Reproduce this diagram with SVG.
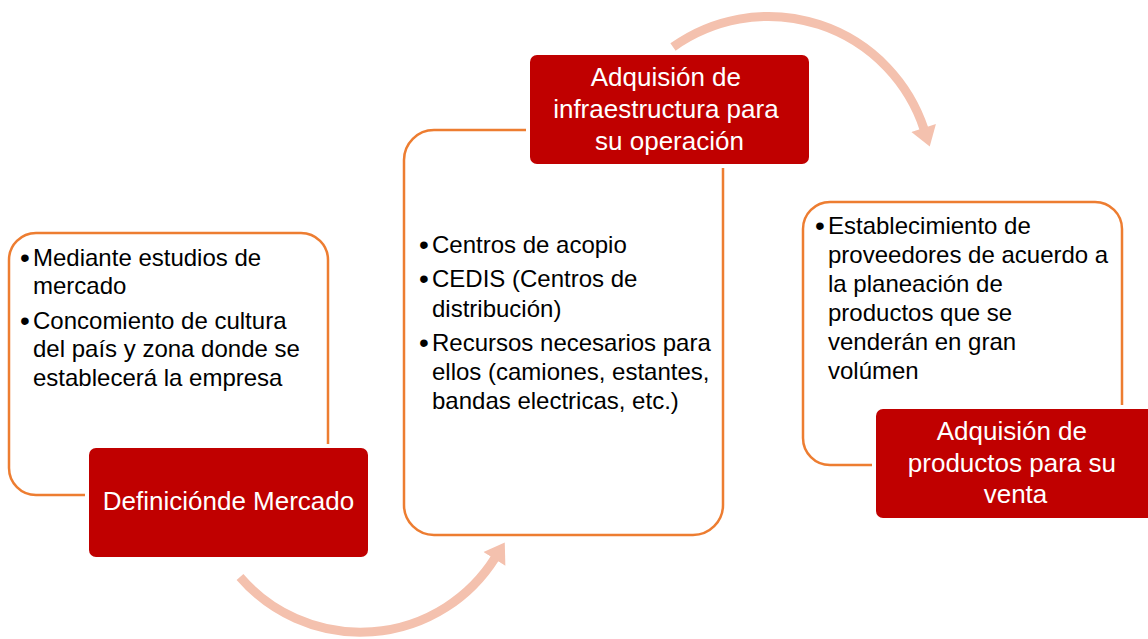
<svg xmlns="http://www.w3.org/2000/svg" width="1148" height="639" viewBox="0 0 1148 639">
  <defs>
    <style>
      .outline { fill: #FFFFFF; stroke: #ED7D31; stroke-width: 2.5; }
      .halo { fill: #FFFFFF; stroke: none; }
      .title { fill: #C00000; stroke: none; }
      .ttext { font-family: "Liberation Sans", Arial, sans-serif; font-size: 26px; fill: #FFFFFF; text-anchor: middle; }
      .body { font-family: "Liberation Sans", Arial, sans-serif; font-size: 24px; fill: #000000; }
      .bul { font-size: 28px; }
      .arc { fill: none; stroke: #F4C1AE; stroke-width: 9; stroke-linecap: butt; }
    </style>
    <marker id="ah" markerUnits="userSpaceOnUse" markerWidth="22" markerHeight="28" viewBox="0 -13 20 26" refX="1" refY="0" orient="auto">
      <path d="M0,-12 L18,0 L0,12 Z" fill="#F4C1AE"/>
    </marker>
  </defs>

  <g id="node-mercado">
    <rect class="outline" x="9" y="233" width="319" height="262" rx="27" ry="27"/>
    <text class="body">
      <tspan class="bul" x="20" y="267">•</tspan><tspan x="33" y="266">Mediante estudios de</tspan>
      <tspan x="33" y="294">mercado</tspan>
      <tspan class="bul" x="20" y="330">•</tspan><tspan x="33" y="329">Concomiento de cultura</tspan>
      <tspan x="33" y="357">del país y zona donde se</tspan>
      <tspan x="33" y="386">establecerá la empresa</tspan>
    </text>
    <rect class="halo" x="85" y="444" width="287" height="117" rx="10" ry="10"/>
    <rect class="title" x="89" y="448" width="279" height="109" rx="7" ry="7"/>
    <text class="ttext" x="228.5" y="510">Definiciónde Mercado</text>
  </g>

  <g id="node-infraestructura">
    <rect class="outline" x="404" y="130" width="319" height="405" rx="30" ry="30"/>
    <text class="body">
      <tspan class="bul" x="419" y="254">•</tspan><tspan x="432" y="253">Centros de acopio</tspan>
      <tspan class="bul" x="419" y="288">•</tspan><tspan x="432" y="287">CEDIS (Centros de</tspan>
      <tspan x="432" y="317">distribución)</tspan>
      <tspan class="bul" x="419" y="352">•</tspan><tspan x="432" y="351">Recursos necesarios para</tspan>
      <tspan x="432" y="380">ellos (camiones, estantes,</tspan>
      <tspan x="432" y="409">bandas electricas, etc.)</tspan>
    </text>
    <rect class="halo" x="526" y="51" width="287" height="117" rx="10" ry="10"/>
    <rect class="title" x="530" y="55" width="279" height="109" rx="7" ry="7"/>
    <text class="ttext">
      <tspan x="669.5" y="86">Adquisión de</tspan>
      <tspan x="669.5" y="118">infraestructura para</tspan>
      <tspan x="669.5" y="150">su operación</tspan>
    </text>
  </g>

  <g id="node-productos">
    <rect class="outline" x="803" y="202" width="319" height="263" rx="27" ry="27"/>
    <text class="body">
      <tspan class="bul" x="815" y="235">•</tspan><tspan x="828" y="234">Establecimiento de</tspan>
      <tspan x="828" y="263">proveedores de acuerdo a</tspan>
      <tspan x="828" y="292">la planeación de</tspan>
      <tspan x="828" y="321">productos que se</tspan>
      <tspan x="828" y="350">venderán en gran</tspan>
      <tspan x="828" y="379">volúmen</tspan>
    </text>
    <rect class="halo" x="872" y="405" width="287" height="117" rx="10" ry="10"/>
    <rect class="title" x="876" y="409" width="279" height="109" rx="7" ry="7"/>
    <text class="ttext">
      <tspan x="1015.5" y="440">Adquisión de</tspan>
      <tspan x="1015.5" y="472">productos para su</tspan>
      <tspan x="1015.5" y="503">venta</tspan>
    </text>
  </g>

  <g id="connectors">
    <path class="arc" d="M 240 577 A 159 159 0 0 0 495 558" marker-end="url(#ah)"/>
    <path class="arc" d="M 673 47 A 164 164 0 0 1 924 129" marker-end="url(#ah)"/>
  </g>
</svg>
